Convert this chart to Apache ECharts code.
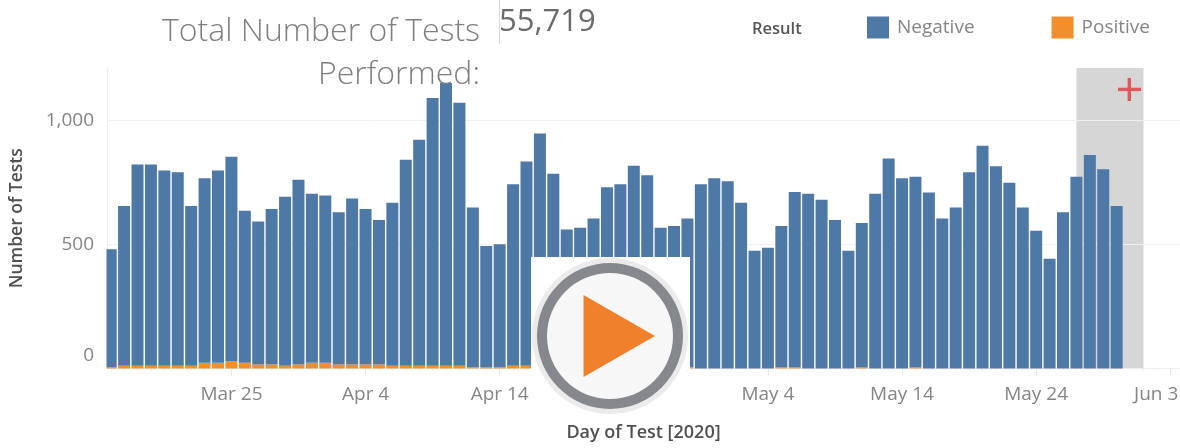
<!DOCTYPE html>
<html>
<head>
<meta charset="utf-8">
<style>
  html, body { margin: 0; padding: 0; background: #fff; }
  #chart { width: 1180px; height: 448px; }
</style>
</head>
<body>
<div id="chart"></div>
<script src="https://cdn.jsdelivr.net/npm/echarts@6/dist/echarts.min.js"></script>
<script>
// one value per day, counted from Mar 16 2020
const negative = [476, 644, 812, 812, 788, 781, 644, 744, 776, 824, 613, 577, 627, 682, 745, 682, 675, 614, 670, 627, 583, 658, 831, 912, 1080, 1141, 1061, 644, 489, 496, 732, 824, 943, 780, 556, 563, 600, 726, 738, 813, 774, 563, 570, 600, 743, 767, 755, 669, 475, 487, 571, 708, 705, 681, 599, 475, 583, 705, 847, 767, 769, 710, 605, 649, 792, 898, 816, 749, 649, 556, 443, 630, 773, 861, 804, 655]
const positive = [5, 11, 11, 11, 11, 11, 11, 23, 23, 30, 23, 16, 16, 11, 16, 23, 23, 16, 16, 16, 16, 11, 11, 11, 11, 11, 11, 5, 5, 5, 11, 11, 5, 5, 5, 5, 5, 5, 5, 5, 5, 5, 5, 5, 0, 0, 0, 0, 0, 0, 4, 4, 0, 0, 0, 0, 4, 0, 0, 0, 4, 0, 0, 0, 0, 0, 0, 0, 0, 0, 0, 0, 0, 0, 0, 0]
// Apr 24 sits behind the play button, so it has no label here
const tickDays = [9, 19, 29, 49, 59, 69, 79]
const tickLabels = ['Mar 25', 'Apr 4', 'Apr 14', 'May 4', 'May 14', 'May 24', 'Jun 3']
const yTicks = [0, 500, 1000]

const DAY = 86400000
const firstDay = Date.UTC(2020, 2, 16)
const dayTime = (i) => firstDay + i * DAY
const allDays = Array.from({ length: 80 }, (v, i) => i)
const xMin = -0.283
const xMax = 79.73
// echarts widens a time axis by the bar width, so ask for a bit less than wanted
const barMin = 0.172
const barMax = 79.275
const bandFrom = 72
const bandTo = 77

const font = 'Open Sans'
const chart = echarts.init(document.getElementById('chart'))

chart.setOption({
  animation: false,
  textStyle: { fontFamily: font },
  grid: { left: 107, right: 0, top: 68, bottom: 79.5, outerBoundsMode: 'none' },
  legend: {
    left: 867,
    top: 16.5,
    padding: 0,
    itemWidth: 22,
    itemHeight: 22,
    itemGap: 77,
    icon: 'rect',
    textStyle: { color: '#858585', fontSize: 19, fontFamily: font, padding: [4, 0, 0, 3] },
    data: ['Negative', 'Positive']
  },
  xAxis: [
    // the bars sit on this one, the two below only draw ticks and labels
    {
      type: 'time',
      min: dayTime(barMin),
      max: dayTime(barMax),
      axisLine: { show: false },
      axisTick: { show: false },
      axisLabel: { show: false },
      splitLine: { show: false }
    },
    {
      type: 'value',
      position: 'bottom',
      min: xMin,
      max: xMax,
      name: 'Day of Test [2020]',
      nameLocation: 'middle',
      nameGap: 55,
      nameTextStyle: { color: '#505050', fontSize: 18, fontFamily: font, fontWeight: 600 },
      axisLine: { show: true, onZero: false, lineStyle: { color: '#eeeeee' } },
      axisTick: { show: true, customValues: tickDays, length: 7, lineStyle: { color: '#e6e6e6' } },
      splitLine: { show: false },
      axisLabel: {
        customValues: tickDays,
        hideOverlap: false,
        showMinLabel: true,
        showMaxLabel: true,
        margin: 17,
        color: '#858585',
        fontSize: 19,
        formatter: (value) => {
          const label = tickLabels[tickDays.indexOf(value)]
          return label === 'Jun 3' ? '{last|' + label + '}' : label
        },
        rich: {
          last: { color: '#858585', fontSize: 19, fontFamily: font, padding: [0, 28, 0, 0] }
        }
      }
    },
    {
      type: 'value',
      position: 'bottom',
      min: xMin,
      max: xMax,
      axisLine: { show: false, onZero: false },
      axisTick: { show: true, customValues: allDays, length: 2, lineStyle: { color: '#eeeeee' } },
      axisLabel: { show: false },
      splitLine: { show: false }
    }
  ],
  yAxis: {
    type: 'value',
    min: 0,
    max: 1212,
    name: 'Number of Tests',
    nameLocation: 'middle',
    nameGap: 81,
    nameTextStyle: { color: '#505050', fontSize: 17.5, fontFamily: font, fontWeight: 600 },
    axisLine: { show: true, onZero: false, lineStyle: { color: '#eeeeee' } },
    axisTick: { show: false, customValues: yTicks },
    splitLine: { show: true, lineStyle: { color: '#f0f0f0', width: 1 } },
    axisLabel: {
      customValues: yTicks,
      margin: 13,
      color: '#858585',
      fontSize: 19,
      formatter: (value) => {
        const text = value.toLocaleString('en-US')
        return value === 0 ? '{zero|' + text + '}' : text
      },
      rich: {
        zero: { color: '#858585', fontSize: 19, fontFamily: font, padding: [0, 0, 25, 0] }
      }
    }
  },
  series: [
    {
      name: 'Positive',
      type: 'bar',
      stack: 'tests',
      barWidth: 12,
      itemStyle: { color: '#f28e2b' },
      data: positive.map((v, i) => [dayTime(i), v]),
      markArea: {
        silent: true,
        z: -1,
        itemStyle: { color: '#d6d6d6' },
        data: [[{ xAxis: dayTime(bandFrom), yAxis: 1212 }, { xAxis: dayTime(bandTo), yAxis: 0 }]]
      }
    },
    {
      name: 'Negative',
      type: 'bar',
      stack: 'tests',
      barWidth: 12,
      itemStyle: { color: '#4e79a7' },
      data: negative.map((v, i) => [dayTime(i), v])
    }
  ],
  graphic: [
    // bar clipping on a time axis leaves the first bar sticking out past the y axis
    { type: 'rect', z: 10, shape: { x: 100, y: 240, width: 6.5, height: 132 }, style: { fill: '#ffffff' } },
    { type: 'text', z: 50, style: { x: 480, y: 32, text: 'Total Number of Tests', fill: '#7f7f7f', font: '300 32px ' + font, textAlign: 'right', textVerticalAlign: 'middle' } },
    { type: 'text', z: 50, style: { x: 480, y: 75, text: 'Performed:', fill: '#7f7f7f', font: '300 32px ' + font, textAlign: 'right', textVerticalAlign: 'middle' } },
    { type: 'line', z: 50, shape: { x1: 499.5, y1: 0, x2: 499.5, y2: 44 }, style: { stroke: '#d9d9d9', lineWidth: 1 } },
    { type: 'text', z: 50, style: { x: 499, y: 22, text: '55,719', fill: '#6b6b6b', font: '31px ' + font, textAlign: 'left', textVerticalAlign: 'middle' } },
    { type: 'text', z: 50, style: { x: 752, y: 29, text: 'Result', fill: '#555555', font: '600 16.5px ' + font, textAlign: 'left', textVerticalAlign: 'middle' } },
    // red plus in the grey band
    { type: 'rect', z: 50, shape: { x: 1118, y: 87.7, width: 23, height: 3.4 }, style: { fill: '#e15759' } },
    { type: 'rect', z: 50, shape: { x: 1127.6, y: 78, width: 3.4, height: 23 }, style: { fill: '#e15759' } },
    // play button over the chart
    { type: 'rect', z: 60, shape: { x: 531, y: 257, width: 159, height: 112 }, style: { fill: '#ffffff' } },
    { type: 'circle', z: 61, shape: { cx: 610, cy: 336, r: 78 }, style: { fill: '#ebebeb' } },
    { type: 'circle', z: 62, shape: { cx: 610, cy: 336, r: 73 }, style: { fill: '#85888c' } },
    { type: 'circle', z: 63, shape: { cx: 610, cy: 336, r: 63 }, style: { fill: '#f7f7f7' } },
    { type: 'polygon', z: 64, shape: { points: [[583.5, 295], [583.5, 377], [655, 336]] }, style: { fill: '#f0802c' } }
  ]
})
</script>
</body>
</html>
